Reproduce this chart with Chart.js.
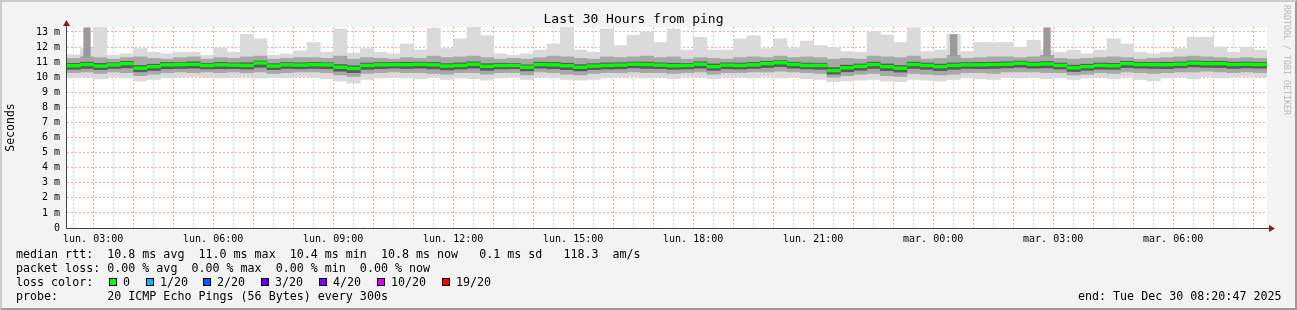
<!DOCTYPE html>
<html>
<head>
<meta charset="utf-8">
<script src="https://cdn.jsdelivr.net/npm/chart.js@4.4.1/dist/chart.umd.min.js"></script>
<style>
  html, body { margin: 0; padding: 0; background: #f3f3f3; }
  #wrap { position: relative; width: 1297px; height: 310px; overflow: hidden;
          font-family: "DejaVu Sans Mono", monospace; color: #000; }
  canvas { position: absolute; left: 0; top: 0; }
  #frame { position: absolute; left: 0; top: 0; width: 1297px; height: 310px; box-sizing: border-box;
           border-top: 2px solid #cbcbcb; border-left: 2px solid #cbcbcb;
           border-right: 2px solid #999; border-bottom: 2px solid #999; pointer-events: none; }
  .row { position: absolute; white-space: pre; font-size: 11.66px; line-height: 14px; }
  .sw { position: absolute; width: 6px; height: 6px; border: 1px solid #000; }
  #watermark { position: absolute; left: 1292px; top: 5px; transform-origin: left top; transform: rotate(90deg);
               font-size: 8.3px; line-height: 10px; color: #b8b8b8; white-space: pre; }
</style>
</head>
<body>
<div id="wrap">
  <canvas id="pingChart" width="1297" height="310"></canvas>
  <div id="watermark">RRDTOOL / TOBI OETIKER</div>
  <div class="row" style="left:16px;top:247px">median rtt:  10.8 ms avg  11.0 ms max  10.4 ms min  10.8 ms now   0.1 ms sd   118.3  am/s</div>
  <div class="row" style="left:16px;top:261px">packet loss: 0.00 % avg  0.00 % max  0.00 % min  0.00 % now</div>
  <div class="row" style="left:16px;top:275px">loss color:</div>
  <div id="lossRow"></div>
  <div class="row" style="left:16px;top:289px">probe:       20 ICMP Echo Pings (56 Bytes) every 300s</div>
  <div class="row" style="left:1078px;top:289px">end: Tue Dec 30 08:20:47 2025</div>
  <div id="frame"></div>
</div>
<script>
// 30 hours of ping, 20 minute buckets: Mon 02:20:47 -> Tue 08:20:47
const startHour = 2 + 20 / 60 + 47 / 3600;
const spanHours = 30;
const bucketHours = 1 / 3;

// median rtt (ms)
const median = [
  10.76,10.84,10.74,10.82,10.90,10.60,10.70,10.82,10.83,10.85,10.78,10.82,10.80,10.78,10.94,10.74,10.82,10.80,
  10.83,10.82,10.66,10.58,10.78,10.82,10.83,10.83,10.85,10.82,10.74,10.78,10.86,10.72,10.78,10.78,10.66,10.84,
  10.82,10.76,10.66,10.74,10.78,10.80,10.86,10.84,10.80,10.76,10.78,10.86,10.70,10.80,10.78,10.82,10.90,10.96,
  10.85,10.78,10.78,10.44,10.62,10.72,10.84,10.70,10.60,10.84,10.78,10.70,10.78,10.82,10.82,10.84,10.86,10.92,
  10.85,10.88,10.78,10.62,10.70,10.78,10.76,10.90,10.84,10.83,10.83,10.86,10.93,10.90,10.90,10.84,10.86,10.84
];

// smoke: slowest / fastest ping per bucket
const rttMax = [
  11.50,11.90,13.30,11.45,11.55,11.90,11.65,11.55,11.65,11.65,11.45,11.95,11.65,12.85,12.55,11.45,11.55,11.75,
  12.30,11.65,13.20,11.60,11.90,11.65,11.55,12.20,11.80,13.25,11.90,12.55,13.30,12.75,11.55,11.45,11.55,11.80,
  12.20,13.30,11.80,11.65,13.20,12.10,12.80,13.00,12.30,13.20,11.80,12.65,11.80,11.80,12.55,12.75,11.90,12.55,
  11.90,12.40,12.10,11.95,11.70,11.65,13.00,12.80,12.30,13.28,11.70,11.80,12.85,11.70,12.30,12.30,12.30,12.00,
  12.45,11.80,11.65,11.80,11.55,11.80,12.55,12.20,11.65,11.55,11.65,11.90,12.65,12.65,12.00,11.65,12.00,11.80
];
const rttMin = [
  9.95,10.00,9.90,10.05,9.95,9.75,9.85,9.95,10.00,10.05,10.00,9.95,10.00,10.05,9.95,10.00,9.95,10.05,
  10.00,9.90,9.75,9.60,9.85,9.95,10.00,9.95,9.90,10.00,9.85,9.95,9.90,9.80,9.95,10.00,9.85,10.00,
  9.95,9.85,9.80,9.85,9.95,10.00,10.05,9.95,10.00,9.90,10.05,10.00,9.90,10.05,10.00,9.95,10.05,9.95,
  10.00,9.90,9.85,9.70,9.75,9.80,9.85,9.75,9.70,9.85,9.80,9.75,9.85,9.95,9.90,9.85,10.00,9.95,
  10.00,9.90,9.95,9.85,9.95,10.00,9.90,10.05,9.85,9.75,9.95,10.00,9.90,10.05,9.95,10.00,10.05,10.00
];

// middle pings
const midHi = [
  11.25,11.35,11.30,11.20,11.30,11.35,11.25,11.20,11.30,11.35,11.20,11.30,11.25,11.35,11.40,11.20,11.25,11.30,
  11.30,11.25,11.40,11.20,11.30,11.25,11.20,11.30,11.25,11.40,11.30,11.35,11.40,11.30,11.20,11.25,11.20,11.30,
  11.40,11.35,11.25,11.20,11.35,11.30,11.35,11.40,11.30,11.35,11.20,11.30,11.25,11.20,11.30,11.35,11.30,11.40,
  11.30,11.35,11.30,11.20,11.25,11.20,11.40,11.35,11.30,11.40,11.20,11.25,11.45,11.25,11.30,11.35,11.35,11.30,
  11.35,11.45,11.25,11.20,11.25,11.30,11.35,11.30,11.20,11.25,11.30,11.35,11.40,11.35,11.30,11.25,11.30,11.25
];
const midLo = [
  10.30,10.35,10.25,10.35,10.30,10.10,10.20,10.30,10.35,10.30,10.35,10.30,10.35,10.30,10.35,10.25,10.30,10.35,
  10.35,10.30,10.15,10.05,10.25,10.30,10.35,10.30,10.30,10.25,10.20,10.30,10.30,10.20,10.30,10.30,10.15,10.35,
  10.30,10.20,10.15,10.25,10.30,10.30,10.35,10.30,10.30,10.25,10.30,10.35,10.20,10.30,10.30,10.35,10.35,10.40,
  10.35,10.30,10.25,10.00,10.10,10.20,10.25,10.10,10.05,10.25,10.20,10.15,10.20,10.30,10.30,10.25,10.35,10.35,
  10.35,10.30,10.30,10.15,10.20,10.30,10.25,10.35,10.30,10.25,10.30,10.35,10.35,10.40,10.35,10.30,10.35,10.30
];

// pings closest to the median
const coreHi = [
  10.92,11.00,10.92,10.96,11.05,10.78,10.86,10.98,10.97,11.02,10.92,10.98,10.95,10.96,11.08,10.90,10.97,10.95,
  10.98,10.96,10.84,10.76,10.94,10.97,10.98,10.99,11.00,10.98,10.90,10.95,11.02,10.90,10.93,10.92,10.82,11.00,
  10.98,10.93,10.84,10.90,10.95,10.96,11.01,11.00,10.95,10.93,10.92,11.02,10.88,10.95,10.94,10.98,11.05,11.10,
  11.00,10.94,10.93,10.64,10.80,10.88,11.00,10.88,10.78,11.00,10.94,10.87,10.95,10.97,10.98,11.00,11.02,11.07,
  11.00,11.04,10.94,10.80,10.86,10.94,10.92,11.05,10.99,10.98,10.99,11.01,11.08,11.05,11.06,11.00,11.01,10.99
];
const coreLo = [
  10.52,10.58,10.50,10.58,10.62,10.36,10.45,10.56,10.58,10.60,10.55,10.56,10.57,10.54,10.66,10.50,10.58,10.56,
  10.58,10.56,10.40,10.30,10.52,10.57,10.60,10.58,10.60,10.55,10.48,10.54,10.60,10.46,10.55,10.56,10.42,10.60,
  10.56,10.50,10.42,10.50,10.54,10.56,10.62,10.58,10.57,10.52,10.55,10.60,10.46,10.56,10.54,10.58,10.64,10.70,
  10.60,10.55,10.52,10.20,10.36,10.46,10.58,10.44,10.34,10.58,10.52,10.44,10.52,10.58,10.57,10.58,10.62,10.66,
  10.60,10.62,10.54,10.38,10.46,10.53,10.52,10.64,10.60,10.58,10.57,10.62,10.68,10.65,10.64,10.58,10.62,10.60
];

// a few single slow pings that show darker
const spikeBuckets = [1, 66, 73];
const spikeLo = [11.30, 11.40, 11.40];
const spikeHi = [13.30, 12.85, 13.30];

// axes
const yMax = 13.33;
const xTickHours = [3, 6, 9, 12, 15, 18, 21, 24, 27, 30];
const xTickLabels = ["lun. 03:00", "lun. 06:00", "lun. 09:00", "lun. 12:00", "lun. 15:00",
                     "lun. 18:00", "lun. 21:00", "mar. 00:00", "mar. 03:00", "mar. 06:00"];

const lossLabels = ["0", "1/20", "2/20", "3/20", "4/20", "10/20", "19/20"];
const lossColors = ["#00ff00", "#00b8ff", "#0059ff", "#5e00ff", "#7e00ff", "#dd00ff", "#ff0000"];

// loss color legend row
const lossRow = document.getElementById("lossRow");
const swatchX = [109, 146, 203, 261, 319, 377, 442];
lossLabels.forEach((lbl, i) => {
  const sw = document.createElement("div");
  sw.className = "sw";
  sw.style.left = swatchX[i] + "px";
  sw.style.top = "278px";
  sw.style.background = lossColors[i];
  lossRow.appendChild(sw);
  const t = document.createElement("div");
  t.className = "row";
  t.style.left = (swatchX[i] + 14) + "px";
  t.style.top = "275px";
  t.textContent = lbl;
  lossRow.appendChild(t);
});

const xs = median.map((_, i) => startHour + (i + 0.5) * bucketHours);
const band = (lo, hi) => xs.map((x, i) => ({ x: x, y: [lo[i], hi[i]] }));
const medianBars = xs.map((x, i) => ({ x: x, y: [median[i] - 0.09, median[i] + 0.09] }));
const spikeBars = spikeBuckets.map((b, k) => ({ x: xs[b], y: [spikeLo[k], spikeHi[k]] }));

const mono = "'DejaVu Sans Mono', monospace";
const redGrid = "rgba(255, 0, 0, 0.35)";
const greyGrid = "rgba(0, 0, 0, 0.2)";

const plotBg = {
  id: "plotBg",
  beforeDraw(chart) {
    const { ctx, chartArea: a } = chart;
    ctx.save();
    ctx.fillStyle = "#ffffff";
    ctx.fillRect(a.left, a.top, a.right - a.left, a.bottom - a.top);
    ctx.restore();
  }
};

const axesArrows = {
  id: "axesArrows",
  afterDraw(chart) {
    const { ctx, chartArea: a } = chart;
    const x0 = Math.round(a.left) - 0.5;
    const y0 = Math.round(a.bottom) + 0.5;
    ctx.save();
    ctx.strokeStyle = "#404040";
    ctx.lineWidth = 1;
    ctx.beginPath();
    ctx.moveTo(x0, y0);
    ctx.lineTo(x0, a.top - 3);
    ctx.moveTo(x0, y0);
    ctx.lineTo(a.right + 3, y0);
    ctx.stroke();
    ctx.fillStyle = "#8b1a1a";
    ctx.beginPath();
    ctx.moveTo(x0, a.top - 7);
    ctx.lineTo(x0 - 3.5, a.top - 1);
    ctx.lineTo(x0 + 3.5, a.top - 1);
    ctx.closePath();
    ctx.fill();
    ctx.beginPath();
    ctx.moveTo(a.right + 8, y0);
    ctx.lineTo(a.right + 2, y0 - 3.5);
    ctx.lineTo(a.right + 2, y0 + 3.5);
    ctx.closePath();
    ctx.fill();
    ctx.restore();
  }
};

new Chart(document.getElementById("pingChart"), {
  type: "bar",
  data: {
    datasets: [
      { label: "median rtt", data: medianBars, backgroundColor: "#00ff00", order: 0 },
      { label: "spikes", data: spikeBars, backgroundColor: "#9a9a9a", barPercentage: 0.55, order: 1 },
      { label: "core", data: band(coreLo, coreHi), backgroundColor: "#5c5c5c", order: 2 },
      { label: "mid", data: band(midLo, midHi), backgroundColor: "#a8a8a8", order: 3 },
      { label: "outer", data: band(rttMin, rttMax), backgroundColor: "#dadada", order: 4 }
    ]
  },
  options: {
    responsive: false,
    animation: false,
    events: [],
    layout: { padding: { left: 0, right: 30, top: 0, bottom: 0 } },
    datasets: { bar: { grouped: false, barPercentage: 1, categoryPercentage: 1, borderWidth: 0 } },
    plugins: {
      legend: { display: false },
      tooltip: { enabled: false },
      title: {
        display: true,
        text: "Last 30 Hours from ping",
        color: "#000",
        font: { family: mono, size: 13, weight: "normal" },
        padding: { top: 11.4, bottom: 0 }
      }
    },
    scales: {
      x: {
        type: "linear",
        min: startHour,
        max: startHour + spanHours,
        offset: false,
        z: 1,
        afterBuildTicks(scale) {
          const ticks = [];
          for (let h = Math.ceil(startHour * 2) / 2; h <= startHour + spanHours; h += 0.5) ticks.push({ value: h });
          scale.ticks = ticks;
        },
        afterFit(scale) { scale.height = 82; },
        ticks: {
          autoSkip: false,
          maxRotation: 0,
          padding: 5,
          color: "#000",
          font: { family: mono, size: 10 },
          callback: v => {
            const i = xTickHours.indexOf(v);
            return i >= 0 ? xTickLabels[i] : "";
          }
        },
        grid: {
          offset: false,
          drawTicks: false,
          lineWidth: 1,
          color: c => (c.tick && Number.isInteger(c.tick.value) ? redGrid : greyGrid)
        },
        border: { display: false, dash: [2, 2] }
      },
      y: {
        min: 0,
        max: yMax,
        z: 1,
        afterBuildTicks(scale) {
          const ticks = [];
          for (let v = 0; v <= 13; v += 0.5) ticks.push({ value: v });
          scale.ticks = ticks;
        },
        afterFit(scale) { scale.width = 67; },
        ticks: {
          padding: 7,
          color: "#000",
          font: { family: mono, size: 10 },
          callback: v => (Number.isInteger(v) ? (v === 0 ? "0" : v + " m") : "")
        },
        grid: {
          drawTicks: false,
          lineWidth: 1,
          color: c => (c.tick && Number.isInteger(c.tick.value) ? redGrid : greyGrid)
        },
        border: { display: false, dash: [2, 2] },
        title: {
          display: true,
          text: "Seconds",
          color: "#000",
          font: { family: mono, size: 11.5 },
          padding: { top: 4, bottom: 0 }
        }
      }
    }
  },
  plugins: [plotBg, axesArrows]
});
</script>
</body>
</html>
